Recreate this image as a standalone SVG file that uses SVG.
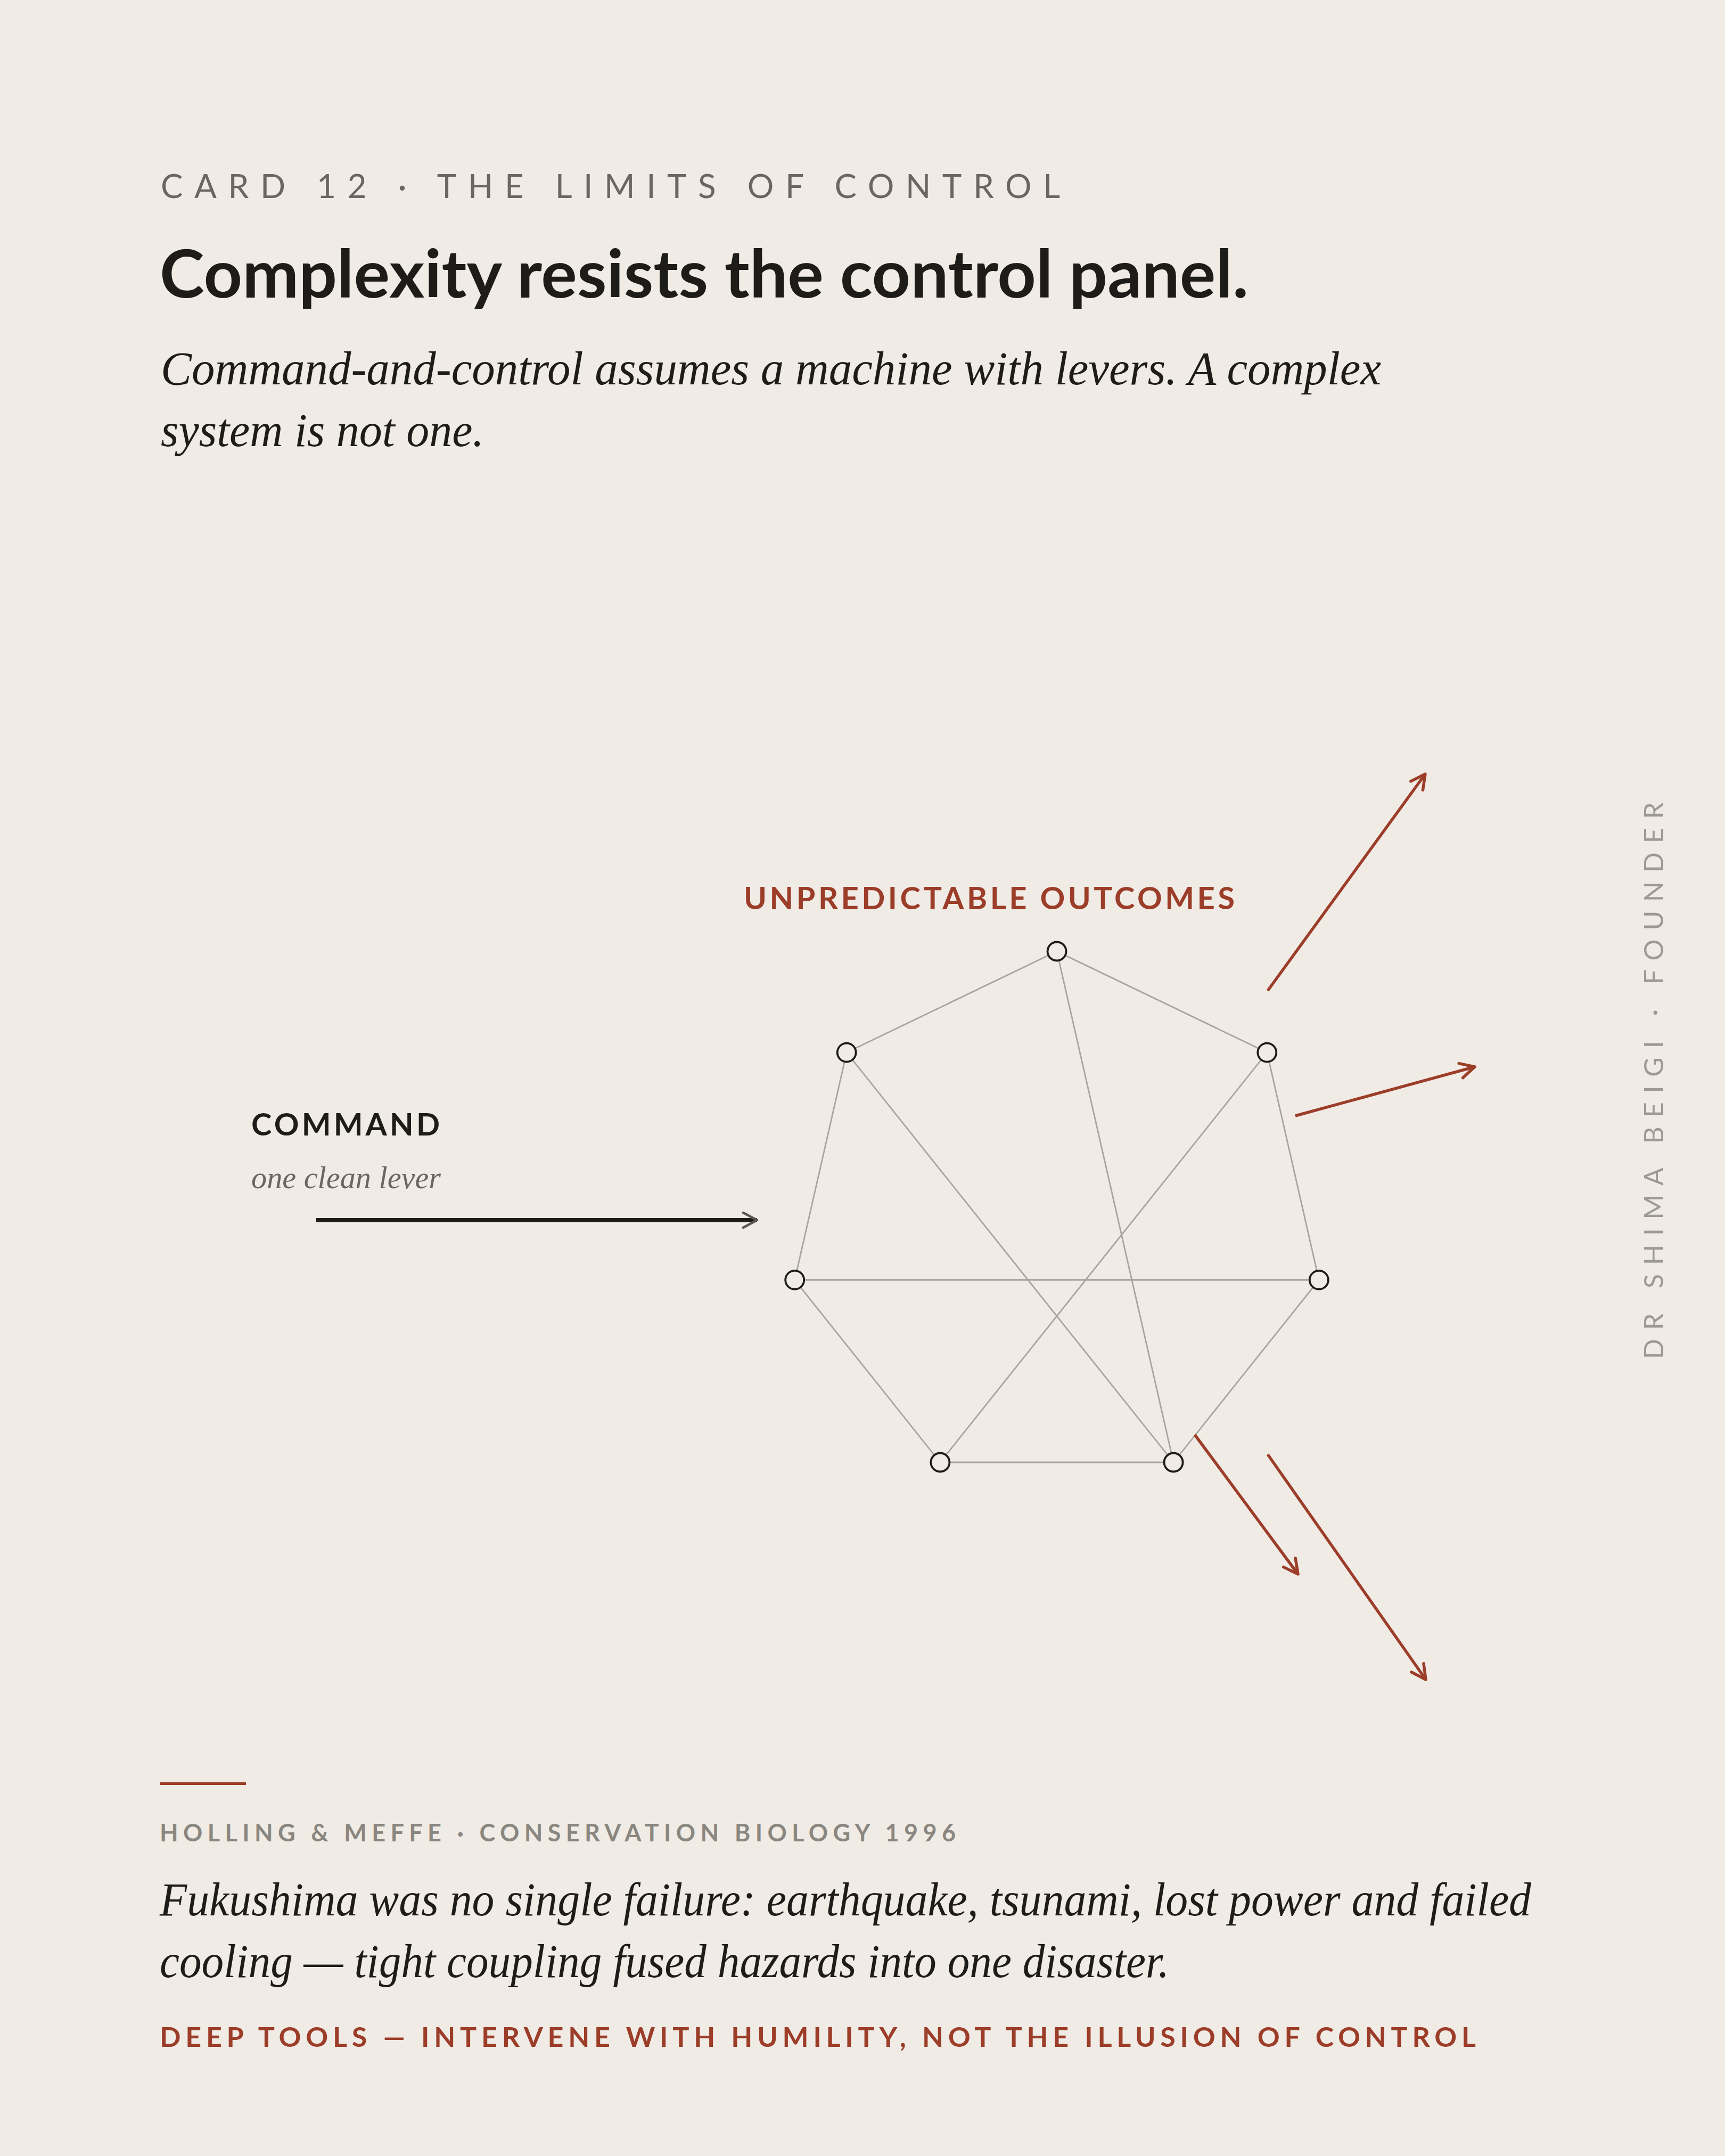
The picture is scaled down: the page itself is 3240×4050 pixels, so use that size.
<svg xmlns="http://www.w3.org/2000/svg" width="3240" height="4050" viewBox="0 0 3240 4050">
<defs>
<style>
.sans{font-family:Lato,"Noto Sans","Liberation Sans",sans-serif}
.serif{font-family:"Liberation Serif","DejaVu Serif",serif;font-style:italic}
.edge{stroke:#a8a59f;stroke-width:2.8;fill:none}
.node{fill:#f0ebe5;stroke:#1e1c19;stroke-width:3.8}
.out{stroke:#9c3d29;stroke-width:5.5;fill:none;marker-end:url(#arR)}
</style>
<marker id="arR" markerUnits="userSpaceOnUse" viewBox="-32 -20 36 40" refX="0" refY="0" markerWidth="36" markerHeight="40" orient="auto" overflow="visible">
<path d="M-27,-14 L0,0 L-27,14" fill="none" stroke="#9c3d29" stroke-width="5.5" stroke-linecap="round" stroke-linejoin="round"/>
</marker>
<marker id="arK" markerUnits="userSpaceOnUse" viewBox="-32 -20 36 40" refX="0" refY="0" markerWidth="36" markerHeight="40" orient="auto" overflow="visible">
<path d="M-26,-14 L0,0 L-26,14" fill="none" stroke="#5a5550" stroke-width="4.5" stroke-linecap="round" stroke-linejoin="round"/>
</marker>
</defs>
<rect x="0" y="0" width="3240" height="4050" fill="#f0ebe5"/>

<g id="header">
<text class="sans" x="302" y="372" font-size="62" fill="#6b6661" letter-spacing="19" textLength="1708" lengthAdjust="spacing">CARD 12 · THE LIMITS OF CONTROL</text>
<text class="sans" x="300" y="559" font-size="124" font-weight="700" fill="#1e1c19" textLength="2045" lengthAdjust="spacingAndGlyphs">Complexity resists the control panel.</text>
<text class="serif" x="302" y="722" font-size="88" fill="#1e1c19" textLength="2292" lengthAdjust="spacingAndGlyphs">Command-and-control assumes a machine with levers. A complex</text>
<text class="serif" x="302" y="838" font-size="88" fill="#1e1c19" textLength="607" lengthAdjust="spacingAndGlyphs">system is not one.</text>
</g>

<g id="connectors">
<line class="edge" x1="1985" y1="1787" x2="1590.2" y2="1977.1"/>
<line class="edge" x1="1985" y1="1787" x2="2379.8" y2="1977.1"/>
<line class="edge" x1="1590.2" y1="1977.1" x2="1492.7" y2="2404.4"/>
<line class="edge" x1="2379.8" y1="1977.1" x2="2477.3" y2="2404.4"/>
<line class="edge" x1="1492.7" y1="2404.4" x2="1765.9" y2="2747"/>
<line class="edge" x1="2477.3" y1="2404.4" x2="2204.1" y2="2747"/>
<line class="edge" x1="1765.9" y1="2747" x2="2204.1" y2="2747"/>
<line class="edge" x1="1492.7" y1="2404.4" x2="2477.3" y2="2404.4"/>
<line class="edge" x1="1590.2" y1="1977.1" x2="2204.1" y2="2747"/>
<line class="edge" x1="2379.8" y1="1977.1" x2="1765.9" y2="2747"/>
<line class="edge" x1="1985" y1="1787" x2="2204.1" y2="2747"/>
<line x1="594" y1="2292" x2="1422" y2="2292" stroke="#1e1c19" stroke-width="8" marker-end="url(#arK)"/>
<line class="out" x1="2381" y1="1861" x2="2677" y2="1454"/>
<line class="out" x1="2433" y1="2096" x2="2770" y2="2004"/>
<line class="out" x1="2244" y1="2695" x2="2438" y2="2957"/>
<line class="out" x1="2381" y1="2732" x2="2678" y2="3155"/>
</g>

<g id="node-t"><circle class="node" cx="1985" cy="1787" r="17.5"/></g>
<g id="node-ur"><circle class="node" cx="2379.8" cy="1977.1" r="17.5"/></g>
<g id="node-r"><circle class="node" cx="2477.3" cy="2404.4" r="17.5"/></g>
<g id="node-br"><circle class="node" cx="2204.1" cy="2747" r="17.5"/></g>
<g id="node-bl"><circle class="node" cx="1765.9" cy="2747" r="17.5"/></g>
<g id="node-l"><circle class="node" cx="1492.7" cy="2404.4" r="17.5"/></g>
<g id="node-ul"><circle class="node" cx="1590.2" cy="1977.1" r="17.5"/></g>

<g id="label-outcomes">
<text class="sans" x="1397" y="1708" font-size="58" font-weight="700" fill="#9c3d29" letter-spacing="8" textLength="930" lengthAdjust="spacing">UNPREDICTABLE OUTCOMES</text>
</g>

<g id="label-command">
<text class="sans" x="472" y="2133" font-size="58" font-weight="700" fill="#1e1c19" letter-spacing="6" textLength="360" lengthAdjust="spacing">COMMAND</text>
<text class="serif" x="472" y="2232" font-size="60" fill="#6b6661" textLength="356" lengthAdjust="spacingAndGlyphs">one clean lever</text>
</g>

<g id="byline">
<text class="sans" transform="translate(3124,2553) rotate(-90)" x="0" y="0" font-size="50" fill="#9d9a94" letter-spacing="16" textLength="1062" lengthAdjust="spacing">DR SHIMA BEIGI · FOUNDER</text>
</g>

<g id="footer">
<rect x="300" y="3348" width="162" height="5" fill="#9c3d29"/>
<text class="sans" x="300" y="3459" font-size="45" font-weight="700" fill="#8a8680" letter-spacing="7" textLength="1502" lengthAdjust="spacing">HOLLING &amp; MEFFE · CONSERVATION BIOLOGY 1996</text>
<text class="serif" x="300" y="3598" font-size="88" fill="#1e1c19" textLength="2576" lengthAdjust="spacingAndGlyphs">Fukushima was no single failure: earthquake, tsunami, lost power and failed</text>
<text class="serif" x="300" y="3714" font-size="88" fill="#1e1c19" textLength="1896" lengthAdjust="spacingAndGlyphs">cooling — tight coupling fused hazards into one disaster.</text>
<text class="sans" x="300" y="3845" font-size="52" font-weight="700" fill="#9c3d29" letter-spacing="8" textLength="2480" lengthAdjust="spacing">DEEP TOOLS — INTERVENE WITH HUMILITY, NOT THE ILLUSION OF CONTROL</text>
</g>
</svg>
